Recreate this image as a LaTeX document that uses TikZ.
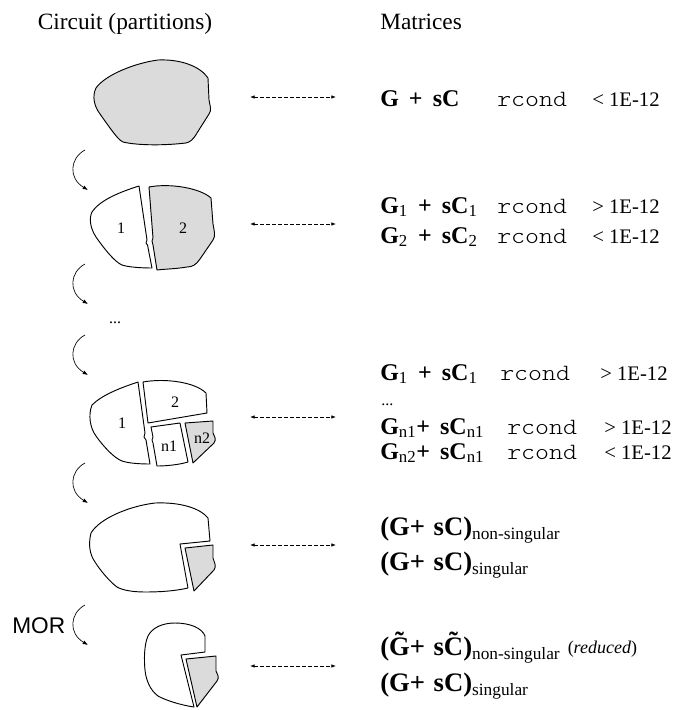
\documentclass[tikz,border=0pt]{standalone}
\usepackage{fontspec}
\usepackage{graphicx}
\setmainfont{Liberation Serif}
\setsansfont{Liberation Sans}
\usetikzlibrary{arrows.meta, positioning}

\definecolor{partgray}{gray}{0.86}

\newcommand{\headsize}{\fontsize{17.5}{21}\selectfont}
\newcommand{\eqsize}{\fontsize{18}{21}\selectfont}
\newcommand{\bigeqsize}{\fontsize{20}{23}\selectfont}
\newcommand{\subsize}{\fontsize{13}{15}\selectfont}
\newcommand{\partsize}{\fontsize{12}{14}\selectfont}
\newcommand{\rc}{\scalebox{1.14}[1]{\ttfamily\fontseries{l}\fontsize{17.5}{20}\selectfont rcond}}
\newcommand{\cmp}[1]{{\fontsize{15.5}{18}\selectfont #1 1E-12}}
\newcommand{\lowsub}[1]{\raisebox{-3.5pt}{\subsize #1}}
\newcommand{\tld}[1]{\leavevmode\hbox{\ooalign{\textbf{#1}\cr\hidewidth\raisebox{0.18em}{\textbf{\char"02DC}}\hidewidth\cr}}}
\newcommand{\opgap}{\hspace{0.42em}}

\begin{document}
\begin{tikzpicture}[x=0.75pt, y=-0.75pt,
blob/.style={draw=black, line width=0.7pt, fill=white, line join=round},
shaded/.style={blob, fill=partgray},
link/.style={{Latex[length=3.5pt,width=2.6pt]}-{Latex[length=3.5pt,width=2.6pt]}, dash pattern=on 2.8pt off 1.7pt, line width=0.5pt},
turn/.style={-{Latex[length=4pt,width=3pt]}, line width=0.5pt},
head/.style={anchor=base, inner sep=0pt, font=\headsize},
eq/.style={anchor=base west, inner sep=0pt, font=\eqsize},
bigeq/.style={eq, font=\bigeqsize},
part/.style={inner sep=0pt, font=\partsize},
]
\useasboundingbox (0,0) rectangle (678,710);

%Headings
\node[head] (circuit) at (125,30) {Circuit (partitions)};
\node[head, anchor=base west] (matrices) at (380,30) {Matrices};

%Circuit, in one piece
\draw[shaded] (96,88) .. controls (105,75) and (135,63) .. (158,60)
  .. controls (180,59) and (200,66) .. (208,78) -- (209,100)
  .. controls (210,106) and (212,110) .. (209,114) -- (197,133)
  .. controls (193,140) and (190,142) .. (186,143)
  .. controls (160,146) and (135,145) .. (123,142)
  .. controls (118,140) and (110,128) .. (100,114)
  .. controls (94,106) and (92,96) .. cycle;

%Two partitions
\draw[blob] (92,212) .. controls (100,200) and (120,192) .. (139,186)
  -- (147,240) -- (146,243) -- (147.5,245) -- (152,268)
  .. controls (140,268) and (128,267) .. (122,265)
  .. controls (115,262) and (105,250) .. (96,237)
  .. controls (90,228) and (89,218) .. cycle;
\draw[shaded] (149,187) .. controls (170,183) and (200,188) .. (211,198)
  -- (213,224) .. controls (214,230) and (216,236) .. (213,240)
  -- (200,259) .. controls (196,265) and (192,267) .. (187,267)
  .. controls (175,269) and (165,269) .. (157,270)
  -- (153,245) -- (152,241) -- (153,238) -- cycle;
\node[part] (p2a) at (121,228) {1};
\node[part] (p2b) at (183,228) {2};

%Many partitions
\draw[blob] (92,405) .. controls (102,395) and (120,388) .. (138,382)
  -- (145,433) -- (144,437) -- (146,440) -- (150,464)
  .. controls (138,464) and (128,463) .. (122,461)
  .. controls (114,458) and (103,446) .. (96,436)
  .. controls (90,428) and (88,415) .. cycle;
\draw[blob] (143,382) .. controls (165,378) and (195,382) .. (206,393)
  -- (207,413) -- (148,423) -- cycle;
\draw[blob] (151,427) -- (180,423) -- (188,462)
  .. controls (178,465) and (165,466) .. (157,466)
  -- (153,443) -- (152,440) -- (153,437) -- cycle;
\draw[shaded] (185,423) -- (213,421) -- (213,433)
  .. controls (214,436) and (217,439) .. (214,443) -- (193,463) -- cycle;
\node[part] (p3a) at (122,423) {1};
\node[part] (p3b) at (175,402) {2};
\node[part] (p3c) at (169,446) {n1};
\node[part] (p3d) at (202,438) {n2};

%Non-singular part and singular part
\draw[blob] (91,533) .. controls (100,518) and (130,506) .. (155,503)
  .. controls (180,502) and (200,508) .. (208,518) -- (210,541)
  -- (180,544) -- (188,588)
  .. controls (175,591) and (160,592) .. (145,592)
  .. controls (132,592) and (122,590) .. (117,587)
  .. controls (110,582) and (100,570) .. (95,562)
  .. controls (90,555) and (88,545) .. cycle;
\draw[shaded] (185,548) -- (213,545) -- (213,558)
  .. controls (214,562) and (217,566) .. (214,570) -- (194,591) -- cycle;

%Reduced part and singular part
\draw[blob] (148,636) .. controls (152,628) and (162,623) .. (175,623)
  .. controls (190,623) and (202,628) .. (205,636) -- (205,652)
  -- (181,655) -- (194,707)
  .. controls (180,705) and (165,700) .. (158,696)
  .. controls (150,690) and (146,680) .. (145,670)
  .. controls (144,660) and (144,645) .. cycle;
\draw[shaded] (186,659) -- (216,656) -- (216,671)
  .. controls (217,674) and (220,677) .. (217,681) -- (197,707) -- cycle;

\node[part] (gap) at (115,323) {...};
\node[anchor=base west, inner sep=0pt, font=\fontsize{17}{20}\sffamily] (mor) at (12,633) {MOR};

%Steps
\foreach \i/\y in {1/150,2/264,3/335,4/463,5/605}{
  \coordinate (from\i) at (85,\y);
  \coordinate (to\i) at (88,\y+40);
  \draw[turn] (from\i) .. controls +(-15,8) and +(-20,-12) .. (to\i);
}

%Links to the matrices
\foreach \i/\y in {1/97,2/224,3/417,4/545,5/666}{
  \coordinate (l\i) at (250,\y);
  \coordinate (r\i) at (336,\y);
  \draw[link] (l\i) -- (r\i);
}

%Matrices
\node[eq] (eq1) at (380,106) {\makebox[87.75pt][l]{\textbf{G}\opgap\textbf{+}\opgap\textbf{sC}}\makebox[71.25pt][l]{\rc}\cmp{<}};

\node[eq] (eq2a) at (380,213) {\makebox[87.75pt][l]{\textbf{G}\textsubscript{1}\opgap\textbf{+}\opgap\textbf{sC}\textsubscript{1}}\makebox[71.25pt][l]{\rc}\cmp{>}};
\node[eq] (eq2b) at (380,243) {\makebox[87.75pt][l]{\textbf{G}\textsubscript{2}\opgap\textbf{+}\opgap\textbf{sC}\textsubscript{2}}\makebox[71.25pt][l]{\rc}\cmp{<}};

\node[eq] (eq3a) at (380,380) {\makebox[90pt][l]{\textbf{G}\textsubscript{1}\opgap\textbf{+}\opgap\textbf{sC}\textsubscript{1}}\makebox[75pt][l]{\rc}\cmp{>}};
\node[part, anchor=base west] (eqdots) at (381,405) {...};
\node[eq] (eq3b) at (380,434) {\makebox[95.25pt][l]{\textbf{G}\textsubscript{n1}\textbf{+}\opgap\textbf{sC}\textsubscript{n1}}\makebox[72.75pt][l]{\rc}\cmp{>}};
\node[eq] (eq3c) at (380,459) {\makebox[95.25pt][l]{\textbf{G}\textsubscript{n2}\textbf{+}\opgap\textbf{sC}\textsubscript{n1}}\makebox[72.75pt][l]{\rc}\cmp{<}};

\node[bigeq] (eq4a) at (380,535) {\textbf{(G+}\hspace{0.32em}\textbf{sC)}\lowsub{non-singular}};
\node[bigeq] (eq4b) at (380,570) {\textbf{(G+}\hspace{0.32em}\textbf{sC)}\lowsub{singular}};

\node[bigeq] (eq5a) at (380,655) {\textbf{(}\tld{G}\textbf{+}\hspace{0.32em}\textbf{s}\tld{C}\textbf{)}\lowsub{non-singular}\hspace{0.3em}\raisebox{1.5pt}{\fontsize{13.5}{15}\selectfont(\textit{reduced})}};
\node[bigeq] (eq5b) at (380,691) {\textbf{(G+}\hspace{0.32em}\textbf{sC)}\lowsub{singular}};

\end{tikzpicture}
\end{document}
